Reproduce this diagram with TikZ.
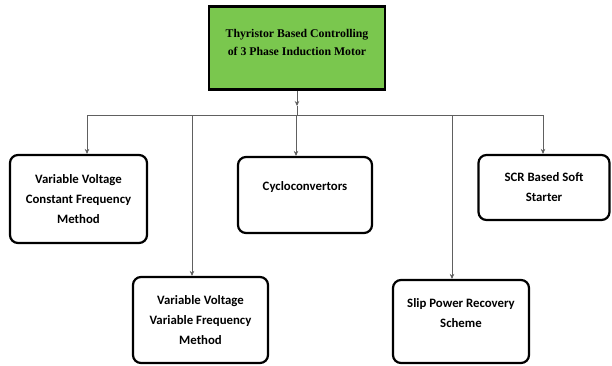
\documentclass[tikz,border=0pt]{standalone}
\usepackage{fontspec}
\setmainfont{Carlito}
\newfontfamily\titlefont{Liberation Serif}
\usetikzlibrary{arrows.meta}

\definecolor{titlegreen}{RGB}{122,199,78}
\tikzset{
	box/.style={draw=black, line width=2.2pt, rounded corners=8pt, fill=white, align=center, inner sep=0pt, font=\bfseries\fontsize{12.8}{20}\selectfont},
	conn/.style={draw=gray!75!black, line width=0.9pt},
	tip/.style={-{Stealth[length=5pt,width=4.5pt,fill=black]}}
}

\begin{document}
\begin{tikzpicture}[x=1pt, y=-1pt]
	\useasboundingbox (0,0) rectangle (612,365);
	% top box
	\node[draw=black, line width=2.2pt, fill=titlegreen, minimum width=176pt, minimum height=83pt, align=center,
		font=\titlefont\bfseries\fontsize{11.8}{18}\selectfont] (motor) at (297,48)
		{Thyristor Based Controlling\\ of 3 Phase Induction Motor\\[-12pt] \strut};
	% methods
	\node[box, minimum width=137pt, minimum height=88pt] (vvcf) at (78.5,199) {Variable Voltage\\ Constant Frequency\\ Method};
	\node[box, minimum width=135pt, minimum height=86pt] (vvvf) at (200.5,320) {Variable Voltage\\ Variable Frequency\\ Method};
	\node[box, minimum width=134pt, minimum height=76pt] (cyclo) at (305,195) {Cycloconvertors\\[-8pt] \strut};
	\node[box, minimum width=131pt, minimum height=65pt] (soft) at (544,187.5) {SCR Based Soft\\ Starter};
	\node[box, minimum width=136pt, minimum height=83pt] (slip) at (461,321.5) {Slip Power Recovery\\ Scheme\\[-8pt] \strut};
	% bus
	\coordinate (busl) at (87,115);
	\coordinate (busr) at (543,115);
	\coordinate (mid) at (motor.south |- 0,106);
	\draw[conn] (busl) -- (busr);
	\draw[conn, tip] (motor.south) -- (mid);
	\draw[conn] (mid) -- (motor.south |- busl);
	\foreach \x/\b in {87/vvcf, 192/vvvf, 296/cyclo, 452/slip, 543/soft} {
		\draw[conn, tip] (\x,115) -- (\x,115 |- \b.north);
	}
\end{tikzpicture}
\end{document}
